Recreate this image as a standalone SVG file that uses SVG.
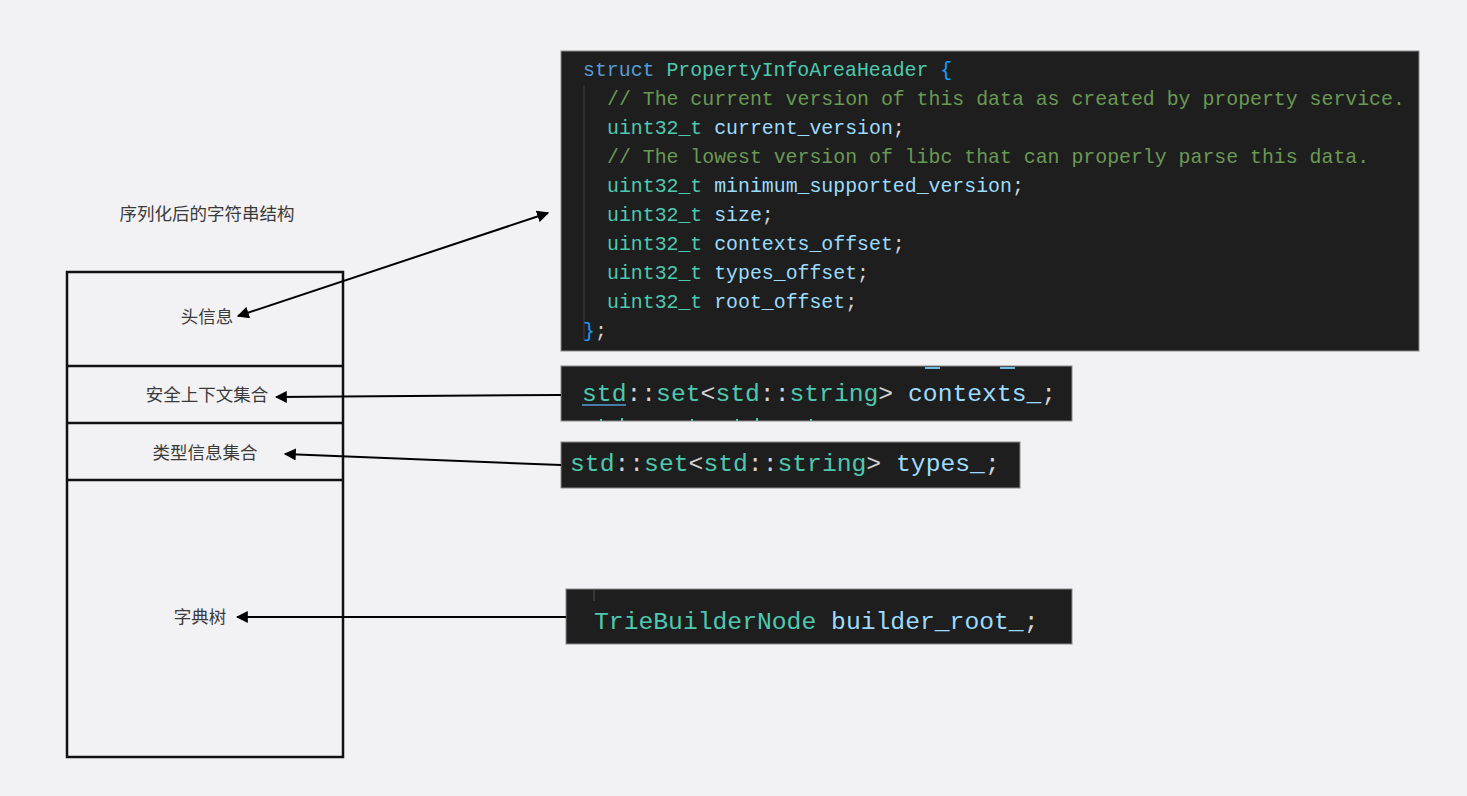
<svg xmlns="http://www.w3.org/2000/svg" width="1467" height="796" viewBox="0 0 1467 796">
<defs>
<style>
.lbl{font-family:"Liberation Sans","Noto Sans CJK SC",sans-serif;font-size:17.5px;fill:#3a3a3a;text-anchor:middle}
.code{font-family:"Liberation Mono","DejaVu Sans Mono",monospace;font-size:19.85px;white-space:pre}
.codeL{font-family:"Liberation Mono","DejaVu Sans Mono",monospace;font-size:24.7px;white-space:pre}
.kw{fill:#569cd6}.ty{fill:#4ec9b0}.cm{fill:#6a9955}.vr{fill:#9cdcfe}.pn{fill:#d4d4d4}.br{fill:#179fff}
.panel{fill:#1e1e1e;stroke:#8a8a8a;stroke-width:1}
.edge{stroke:#000;stroke-width:2;fill:none}
.cell{fill:none;stroke:#111;stroke-width:2.5}
</style>
<marker id="ah" viewBox="0 0 10 10" refX="9" refY="5" markerWidth="12" markerHeight="12" markerUnits="userSpaceOnUse" orient="auto-start-reverse">
<path d="M0,0 L10,5 L0,10 z" fill="#000"/>
</marker>
</defs>
<rect width="1467" height="796" fill="#f2f2f4"/>

<g id="title"><text class="lbl" x="207" y="220">序列化后的字符串结构</text></g>

<g id="structure">
<rect class="cell" x="67" y="272" width="276" height="485"/>
<line class="cell" x1="67" y1="366" x2="343" y2="366"/>
<line class="cell" x1="67" y1="423" x2="343" y2="423"/>
<line class="cell" x1="67" y1="480" x2="343" y2="480"/>
</g>
<g id="n-header"><text class="lbl" x="207" y="323">头信息</text></g>
<g id="n-contexts"><text class="lbl" x="207" y="401">安全上下文集合</text></g>
<g id="n-types"><text class="lbl" x="205" y="459">类型信息集合</text></g>
<g id="n-trie"><text class="lbl" x="200" y="623">字典树</text></g>

<g id="code-header">
<rect class="panel" x="561" y="51" width="858" height="300"/>
<line x1="584" y1="85" x2="584" y2="340" stroke="#404040" stroke-width="1"/>
<text class="code" x="583" y="76"><tspan class="kw">struct</tspan><tspan class="pn"> </tspan><tspan class="ty">PropertyInfoAreaHeader</tspan><tspan class="pn"> </tspan><tspan class="br">{</tspan></text>
<text class="code cm" x="607" y="105">// The current version of this data as created by property service.</text>
<text class="code" x="607" y="134"><tspan class="ty">uint32_t</tspan><tspan class="pn"> </tspan><tspan class="vr">current_version</tspan><tspan class="pn">;</tspan></text>
<text class="code cm" x="607" y="163">// The lowest version of libc that can properly parse this data.</text>
<text class="code" x="607" y="192"><tspan class="ty">uint32_t</tspan><tspan class="pn"> </tspan><tspan class="vr">minimum_supported_version</tspan><tspan class="pn">;</tspan></text>
<text class="code" x="607" y="221"><tspan class="ty">uint32_t</tspan><tspan class="pn"> </tspan><tspan class="vr">size</tspan><tspan class="pn">;</tspan></text>
<text class="code" x="607" y="250"><tspan class="ty">uint32_t</tspan><tspan class="pn"> </tspan><tspan class="vr">contexts_offset</tspan><tspan class="pn">;</tspan></text>
<text class="code" x="607" y="279"><tspan class="ty">uint32_t</tspan><tspan class="pn"> </tspan><tspan class="vr">types_offset</tspan><tspan class="pn">;</tspan></text>
<text class="code" x="607" y="308"><tspan class="ty">uint32_t</tspan><tspan class="pn"> </tspan><tspan class="vr">root_offset</tspan><tspan class="pn">;</tspan></text>
<text class="code" x="583" y="337"><tspan class="br">}</tspan><tspan class="pn">;</tspan></text>
</g>

<g id="code-contexts">
<rect class="panel" x="561" y="366" width="511" height="55"/>
<rect x="925" y="367" width="15" height="2" fill="#6fb8e0"/>
<rect x="1000" y="367" width="15" height="2" fill="#6fb8e0"/>
<text class="codeL" x="582" y="401"><tspan class="ty">std</tspan><tspan class="pn">::</tspan><tspan class="ty">set</tspan><tspan class="pn">&lt;</tspan><tspan class="ty">std</tspan><tspan class="pn">::</tspan><tspan class="ty">string</tspan><tspan class="pn">&gt; </tspan><tspan class="vr">contexts_</tspan><tspan class="pn">;</tspan></text>
<line x1="582" y1="405" x2="626" y2="405" stroke="#569cd6" stroke-width="1.5"/>
<g fill="#4ec9b0"><rect x="600" y="419" width="2" height="2"/><rect x="621" y="418" width="2" height="3"/><rect x="691" y="419" width="2" height="2"/><rect x="736" y="419" width="2" height="2"/><rect x="756" y="418" width="2" height="3"/><rect x="810" y="419" width="2" height="2"/></g>
</g>

<g id="code-types">
<rect class="panel" x="561" y="442" width="459" height="46"/>
<text class="codeL" x="570" y="471"><tspan class="ty">std</tspan><tspan class="pn">::</tspan><tspan class="ty">set</tspan><tspan class="pn">&lt;</tspan><tspan class="ty">std</tspan><tspan class="pn">::</tspan><tspan class="ty">string</tspan><tspan class="pn">&gt; </tspan><tspan class="vr">types_</tspan><tspan class="pn">;</tspan></text>
</g>

<g id="code-trie">
<rect class="panel" x="566" y="589" width="506" height="55"/>
<line x1="594" y1="590" x2="594" y2="601" stroke="#505050" stroke-width="1"/>
<text class="codeL" x="594" y="629"><tspan class="ty">TrieBuilderNode</tspan><tspan class="pn"> </tspan><tspan class="vr">builder_root_</tspan><tspan class="pn">;</tspan></text>
</g>

<g id="connectors">
<line class="edge" x1="238" y1="316" x2="548" y2="213" marker-start="url(#ah)" marker-end="url(#ah)"/>
<line class="edge" x1="561" y1="395" x2="276" y2="397" marker-end="url(#ah)"/>
<line class="edge" x1="561" y1="465" x2="285" y2="454" marker-end="url(#ah)"/>
<line class="edge" x1="566" y1="617" x2="237" y2="617" marker-end="url(#ah)"/>
</g>
</svg>
